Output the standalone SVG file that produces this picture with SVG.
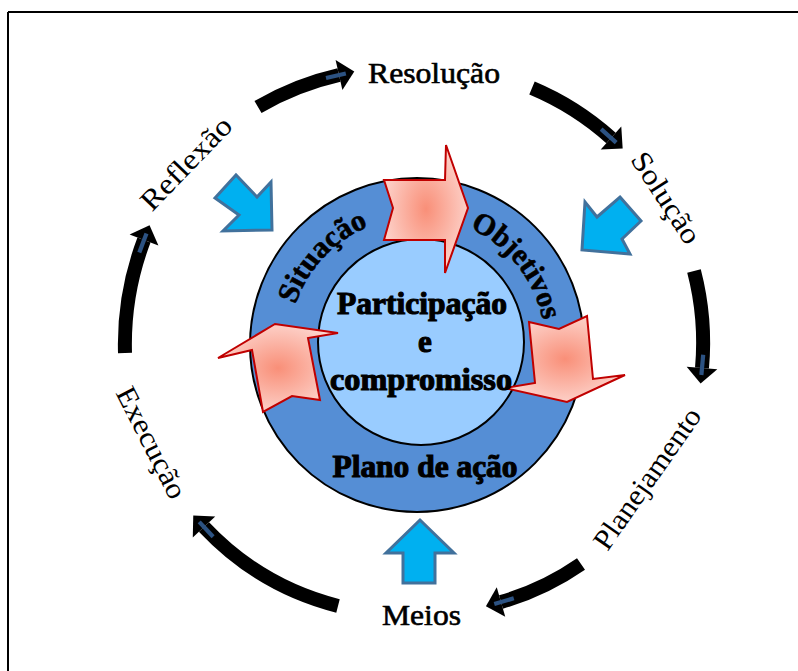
<svg xmlns="http://www.w3.org/2000/svg" width="798" height="671" viewBox="0 0 798 671">
  <defs>
    <style>
      .cyc { fill: none; stroke: #000; stroke-width: 14; marker-end: url(#head); }
      .lbl { font-family: "Liberation Serif", "Times New Roman", serif; font-size: 29px; fill: #000; text-anchor: middle; }
      .strong { stroke: #000; stroke-width: 0.6; }
      .core { font-family: "Liberation Serif", "Times New Roman", serif; font-weight: bold; font-size: 31px; fill: #000; stroke: #000; stroke-width: 1.1; text-anchor: middle; }
      .ringtxt { font-family: "Liberation Serif", "Times New Roman", serif; font-weight: bold; font-size: 30px; fill: #000; stroke: #000; stroke-width: 0.6; text-anchor: middle; }
      .push { fill: url(#pink); stroke: #C00000; stroke-width: 2; stroke-linejoin: miter; }
      .feed { fill: #00B0F0; stroke: #41719C; stroke-width: 3; stroke-linejoin: miter; }
    </style>
    <radialGradient id="pink" cx="50%" cy="50%" r="55%">
      <stop offset="0" stop-color="#F98F78"/>
      <stop offset="1" stop-color="#FDD6CF"/>
    </radialGradient>
    <marker id="head" markerUnits="strokeWidth" orient="auto" refX="0" refY="0" markerWidth="3" markerHeight="3" overflow="visible">
      <polygon points="0,-1.1 1.12,0 0,1.1" fill="#000"/>
      <rect x="-0.95" y="-0.15" width="1.45" height="0.3" fill="#2C5282"/>
    </marker>
    <path id="ringArc" d="M289,345 A128,128 0 0 1 545,345" fill="none"/>
  </defs>

  <rect width="798" height="671" fill="#fff"/>

  <!-- page frame -->
  <g id="frame" stroke="#000" stroke-width="2" fill="none">
    <line x1="8" y1="12" x2="798" y2="12"/>
    <line x1="8" y1="12" x2="8" y2="671"/>
  </g>

  <!-- cycle connectors -->
  <g id="connectors">
    <path class="cyc" d="M258,107 A285,285 0 0 1 339,75"/>
    <path class="cyc" d="M532,88 A282,282 0 0 1 611,138"/>
    <path class="cyc" d="M694,271 A285,285 0 0 1 702,368"/>
    <path class="cyc" d="M581,564 A272,272 0 0 1 501,602"/>
    <path class="cyc" d="M338,606 A278,278 0 0 1 204,527"/>
    <path class="cyc" d="M125,353 A294,294 0 0 1 144,240"/>
  </g>

  <!-- outer cycle stages -->
  <g id="resolucao"><text class="lbl strong" x="434" y="83" textLength="132" lengthAdjust="spacingAndGlyphs">Resolução</text></g>
  <g id="solucao"><text class="lbl" transform="translate(658,203) rotate(57)" textLength="104" lengthAdjust="spacingAndGlyphs">Solução</text></g>
  <g id="planejamento"><text class="lbl" transform="translate(655,484) rotate(-55)" textLength="166" lengthAdjust="spacingAndGlyphs">Planejamento</text></g>
  <g id="meios"><text class="lbl strong" x="421.5" y="625" textLength="79" lengthAdjust="spacingAndGlyphs">Meios</text></g>
  <g id="execucao"><text class="lbl" transform="translate(143,447) rotate(63)" textLength="122" lengthAdjust="spacingAndGlyphs">Execução</text></g>
  <g id="reflexao"><text class="lbl" transform="translate(193,170) rotate(-46)" textLength="118" lengthAdjust="spacingAndGlyphs">Reflexão</text></g>

  <!-- inputs feeding the core -->
  <g id="feed-left"><polygon class="feed" points="215,198 236,175 257,197 271,182 272,230 223,231 239,215"/></g>
  <g id="feed-right"><polygon class="feed" points="620,197 641,221 622,239 630,254 582,250 585,202 597,217"/></g>
  <g id="feed-bottom"><polygon class="feed" points="420,520 454,553 435,553 435,583 403,583 403,553 386,553"/></g>

  <!-- core rings -->
  <g id="ring-outer">
    <circle cx="417" cy="345" r="167" fill="#558ED5" stroke="#000" stroke-width="2"/>
    <text class="ringtxt"><textPath href="#ringArc" startOffset="96" textLength="110" lengthAdjust="spacingAndGlyphs">Situação</textPath></text>
    <text class="ringtxt"><textPath href="#ringArc" startOffset="316" textLength="122" lengthAdjust="spacingAndGlyphs">Objetivos</textPath></text>
  </g>
  <g id="ring-inner">
    <circle cx="421" cy="342" r="103" fill="#99CCFF" stroke="#000" stroke-width="2"/>
  </g>

  <!-- inner rotation arrows -->
  <g id="turn-top"><polygon class="push" points="384,180 393,208 384,240 445,240 445,273 468,208 446,145 445,180"/></g>
  <g id="turn-right"><polygon class="push" points="529,322 559,329 587,316 593,379 625,375 567,402 505,388 535,383"/></g>
  <g id="turn-left"><polygon class="push" points="263,412 252,350 218,358 275,324 338,333 308,338 320,400 292,396"/></g>

  <!-- core labels -->
  <g id="core">
    <text class="core" x="422" y="314" textLength="170" lengthAdjust="spacingAndGlyphs">Participação</text>
    <text class="core" x="425" y="352">e</text>
    <text class="core" x="421" y="390" textLength="182" lengthAdjust="spacingAndGlyphs">compromisso</text>
  </g>
  <g id="plano">
    <text class="core" x="425" y="477" textLength="185" lengthAdjust="spacingAndGlyphs">Plano de ação</text>
  </g>
</svg>
